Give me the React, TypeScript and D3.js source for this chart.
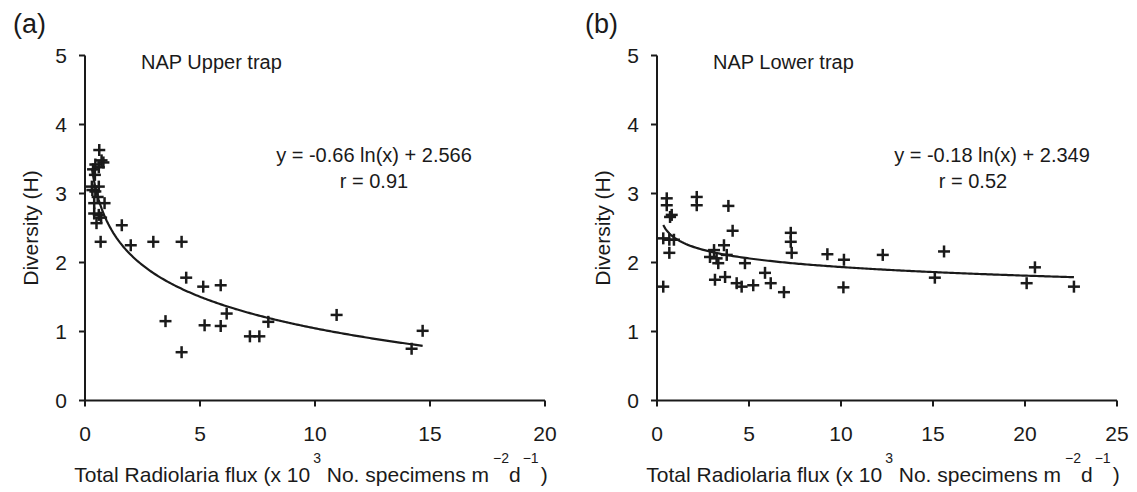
import React from "react";
import * as d3 from "d3";

// ---- Data ----
const upperFlux = [0.62, 0.72, 0.45, 0.35, 0.6, 0.43, 0.3, 0.6, 0.32, 0.45, 0.55, 0.4, 0.85, 0.4, 0.6, 0.5, 0.8, 0.7, 1.6, 0.68, 1.99, 2.97, 4.2, 4.4, 5.14, 5.9, 6.16, 5.2, 5.9, 3.5, 4.2, 7.17, 7.58, 7.97, 10.94, 14.2, 14.68];
const upperH = [3.63, 3.48, 3.42, 3.35, 3.38, 3.27, 3.1, 3.1, 3.05, 3.03, 2.95, 2.86, 2.86, 2.71, 2.69, 2.57, 3.45, 2.65, 2.54, 2.3, 2.25, 2.3, 2.3, 1.78, 1.65, 1.67, 1.26, 1.09, 1.08, 1.15, 0.7, 0.93, 0.93, 1.14, 1.24, 0.75, 1.01];

const lowerFlux = [0.53, 0.53, 0.8, 0.71, 0.34, 0.67, 0.92, 0.67, 0.34, 2.16, 2.16, 3.88, 4.11, 3.64, 3.1, 2.88, 3.24, 3.79, 3.33, 3.15, 3.7, 4.78, 4.33, 4.6, 5.23, 5.87, 6.18, 6.9, 7.27, 7.27, 7.32, 9.26, 10.16, 10.13, 12.27, 15.6, 15.1, 20.54, 20.09, 22.66];
const lowerH = [2.93, 2.83, 2.69, 2.66, 2.35, 2.33, 2.33, 2.14, 1.65, 2.95, 2.83, 2.82, 2.46, 2.25, 2.18, 2.08, 2.06, 2.11, 1.99, 1.75, 1.79, 1.99, 1.7, 1.65, 1.67, 1.85, 1.7, 1.57, 2.43, 2.3, 2.14, 2.12, 2.04, 1.64, 2.11, 2.16, 1.78, 1.93, 1.7, 1.65];

const upperXTicks = [0, 5, 10, 15, 20];
const lowerXTicks = [0, 5, 10, 15, 20, 25];
const yTicks = [0, 1, 2, 3, 4, 5];

const upperFit = { a: -0.66, b: 2.566, r: "0.91" };
const lowerFit = { a: -0.18, b: 2.349, r: "0.52" };

const FONT = "'Liberation Sans', Arial, sans-serif";
const INK = "#1a1a1a";

type PanelProps = {
  offsetX: number;
  letter: string;
  title: string;
  xs: number[];
  ys: number[];
  xMax: number;
  xTicks: number[];
  fit: { a: number; b: number; r: string };
  eqX: number;
  rX: number;
};

function Panel({ offsetX, letter, title, xs, ys, xMax, xTicks, fit, eqX, rX }: PanelProps) {
  const left = 85 + offsetX;
  const right = left + 460;
  const top = 55.5;
  const bottom = 400.5;
  const x = d3.scaleLinear().domain([0, xMax]).range([left, right]);
  const y = d3.scaleLinear().domain([0, 5]).range([bottom, top]);

  const minX = d3.min(xs) as number;
  const maxX = d3.max(xs) as number;
  const samples = d3.range(0, 201).map((i) => minX + ((maxX - minX) * i) / 200);
  const line = d3
    .line<number>()
    .x((d) => x(d))
    .y((d) => y(fit.a * Math.log(d) + fit.b));

  const arm = 6;
  const eq = `y = ${fit.a < 0 ? "-" : ""}${Math.abs(fit.a)} ln(x) + ${fit.b}`;

  return (
    <g fontFamily={FONT} fill={INK}>
      <text x={13 + offsetX} y={33} fontSize={27}>{letter}</text>
      <text x={left + 56} y={69} fontSize={20}>{title}</text>
      {/* axes */}
      <line x1={left} x2={left} y1={top} y2={bottom} stroke={INK} strokeWidth={2} />
      <line x1={left} x2={right} y1={bottom} y2={bottom} stroke={INK} strokeWidth={2} />
      {yTicks.map((t) => (
        <g key={"y" + t}>
          <line x1={left - 6} x2={left} y1={y(t)} y2={y(t)} stroke={INK} strokeWidth={2} />
          <text x={left - 18} y={y(t)} dy="0.36em" textAnchor="end" fontSize={21}>{t}</text>
        </g>
      ))}
      {xTicks.map((t) => (
        <g key={"x" + t}>
          <line x1={x(t)} x2={x(t)} y1={bottom} y2={bottom + 6} stroke={INK} strokeWidth={2} />
          <text x={x(t)} y={441} textAnchor="middle" fontSize={21}>{t}</text>
        </g>
      ))}
      <text
        transform={`translate(${38 + offsetX},${(top + bottom) / 2}) rotate(-90)`}
        textAnchor="middle"
        fontSize={21}
      >
        Diversity (H)
      </text>
      <text x={(left + right) / 2 - 4} y={482} textAnchor="middle" fontSize={21}>
        Total Radiolaria flux (x 10
        <tspan dy={-19} fontSize={14} dx={3}>3</tspan>
        <tspan dy={19}> No. specimens m</tspan>
        <tspan dy={-19} fontSize={14} dx={4}>−2</tspan>
        <tspan dy={19}>d</tspan>
        <tspan dy={-19} fontSize={14} dx={2}>−1</tspan>
        <tspan dy={19} dx={2}>)</tspan>
      </text>
      {/* trend */}
      <path d={line(samples) || ""} fill="none" stroke={INK} strokeWidth={2.2} />
      {/* points */}
      {xs.map((v, i) => (
        <g key={"p" + i} stroke={INK} strokeWidth={2.5}>
          <line x1={x(v) - arm} x2={x(v) + arm} y1={y(ys[i])} y2={y(ys[i])} />
          <line x1={x(v)} x2={x(v)} y1={y(ys[i]) - arm} y2={y(ys[i]) + arm} />
        </g>
      ))}
      <text x={eqX} y={162} textAnchor="middle" fontSize={20}>{eq}</text>
      <text x={rX} y={188} textAnchor="middle" fontSize={20}>r = {fit.r}</text>
    </g>
  );
}

export default function App() {
  return (
    <svg
      width={1137}
      height={492}
      style={{ position: "absolute", left: 0, top: 0, background: "#fff" }}
    >
      <Panel offsetX={0} letter="(a)" title="NAP Upper trap" xs={upperFlux} ys={upperH} xMax={20} xTicks={upperXTicks} fit={upperFit} eqX={374} rX={374} />
      <Panel offsetX={572} letter="(b)" title="NAP Lower trap" xs={lowerFlux} ys={lowerH} xMax={25} xTicks={lowerXTicks} fit={lowerFit} eqX={992} rX={973} />
    </svg>
  );
}
